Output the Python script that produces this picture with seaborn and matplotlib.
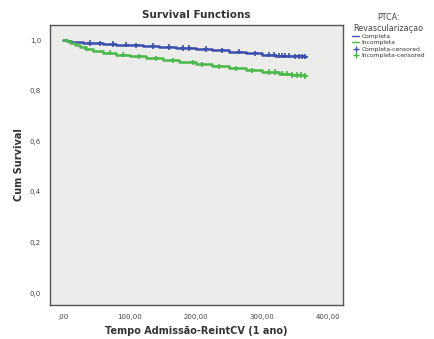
"""Kaplan-Meier style survival curves by revascularization group."""

import matplotlib
matplotlib.use("Agg")
import matplotlib.pyplot as plt
from matplotlib.lines import Line2D
import numpy as np
import pandas as pd
import seaborn as sns

# Completa: step times and cumulative survival
completa_t = [0, 5, 12, 20, 30, 45, 60, 80, 100, 120, 145, 170, 200, 225, 250,
              275, 300, 320, 345, 365]
completa_s = [1.0, 0.997, 0.994, 0.991, 0.989, 0.987, 0.985, 0.982, 0.979, 0.977,
              0.973, 0.969, 0.965, 0.960, 0.954, 0.948, 0.943, 0.939, 0.936, 0.934]
completa_cens = [40, 55, 75, 95, 110, 135, 160, 180, 190, 215, 240, 265, 290,
                 310, 318, 325, 330, 335, 340, 350, 355, 360, 365]

# Incompleta
incompleta_t = [0, 5, 10, 18, 25, 35, 45, 60, 80, 100, 125, 150, 175, 200, 225,
                250, 275, 300, 325, 345, 365]
incompleta_s = [1.0, 0.995, 0.989, 0.981, 0.973, 0.966, 0.958, 0.950, 0.942, 0.936,
                0.929, 0.921, 0.913, 0.904, 0.896, 0.889, 0.881, 0.874, 0.867,
                0.862, 0.858]
incompleta_cens = [35, 70, 90, 115, 140, 165, 195, 210, 235, 260, 285, 310, 320,
                   330, 338, 345, 352, 358, 365]

x_ticks = [0, 100, 200, 300, 400]
x_labels = [",00", "100,00", "200,00", "300,00", "400,00"]
y_ticks = [0.0, 0.2, 0.4, 0.6, 0.8, 1.0]
y_labels = ["0,0", "0,2", "0,4", "0,6", "0,8", "1,0"]

BLUE = "#3b4fae"
GREEN = "#49b94a"


def step_at(times, surv, at):
    idx = np.searchsorted(times, at, side="right") - 1
    return np.asarray(surv)[idx]


curves = pd.concat([
    pd.DataFrame({"t": completa_t, "s": completa_s, "grp": "Completa"}),
    pd.DataFrame({"t": incompleta_t, "s": incompleta_s, "grp": "Incompleta"}),
])
cens = pd.concat([
    pd.DataFrame({"t": completa_cens,
                  "s": step_at(completa_t, completa_s, completa_cens),
                  "grp": "Completa"}),
    pd.DataFrame({"t": incompleta_cens,
                  "s": step_at(incompleta_t, incompleta_s, incompleta_cens),
                  "grp": "Incompleta"}),
])
palette = {"Completa": BLUE, "Incompleta": GREEN}

sns.set_style("white")
plt.rcParams["font.family"] = ["DejaVu Sans"]

fig = plt.figure(figsize=(4.35, 3.39), dpi=100)
ax = fig.add_axes([50 / 435, 1 - 305 / 339, 293 / 435, 280 / 339])
ax.set_facecolor("#ececea")

sns.lineplot(data=curves, x="t", y="s", hue="grp", palette=palette,
             drawstyle="steps-post", linewidth=1.8, ax=ax, legend=False,
             estimator=None, sort=True)
sns.scatterplot(data=cens, x="t", y="s", hue="grp", palette=palette,
                marker="+", s=14, linewidth=1.2, ax=ax, legend=False)

ax.set_xlim(-20, 422)
ax.set_ylim(-0.047, 1.06)
ax.set_xticks(x_ticks)
ax.set_xticklabels(x_labels)
ax.set_yticks(y_ticks)
ax.set_yticklabels(y_labels)
ax.tick_params(axis="both", labelsize=5, colors="#555555", length=3,
               width=0.8, direction="out")
ax.tick_params(axis="both", labelcolor="#444444")
for sp in ax.spines.values():
    sp.set_color("#555555")
    sp.set_linewidth(1.0)

ax.set_xlabel("Tempo Admissão-ReintCV (1 ano)", fontsize=7, fontweight="bold",
              color="#333333", labelpad=4)
ax.set_ylabel("Cum Survival", fontsize=7, fontweight="bold", color="#333333",
              labelpad=4)
ax.set_title("Survival Functions", fontsize=7.5, fontweight="bold",
             color="#333333", pad=5)

handles = [
    Line2D([], [], color=BLUE, lw=1.0, drawstyle="steps-post"),
    Line2D([], [], color=GREEN, lw=1.0, drawstyle="steps-post"),
    Line2D([], [], color=BLUE, lw=0, marker="+", markersize=4),
    Line2D([], [], color=GREEN, lw=0, marker="+", markersize=4),
]
labels = ["Completa", "Incompleta", "Completa-censored", "Incompleta-censored"]
leg = fig.legend(handles, labels, title="PTCA:\nRevascularizaçao",
                 loc="upper left", bbox_to_anchor=(351 / 435, 1 - 12 / 339),
                 fontsize=4.3, title_fontsize=5.8, frameon=False,
                 handlelength=1.2, handletextpad=0.3, labelspacing=0.2,
                 borderaxespad=0, borderpad=0.2)
leg.get_title().set_color("#444444")
leg.get_title().set_multialignment("center")
leg._legend_box.align = "center"
for t in leg.get_texts():
    t.set_color("#333333")

fig.savefig("out.png", dpi=100)
